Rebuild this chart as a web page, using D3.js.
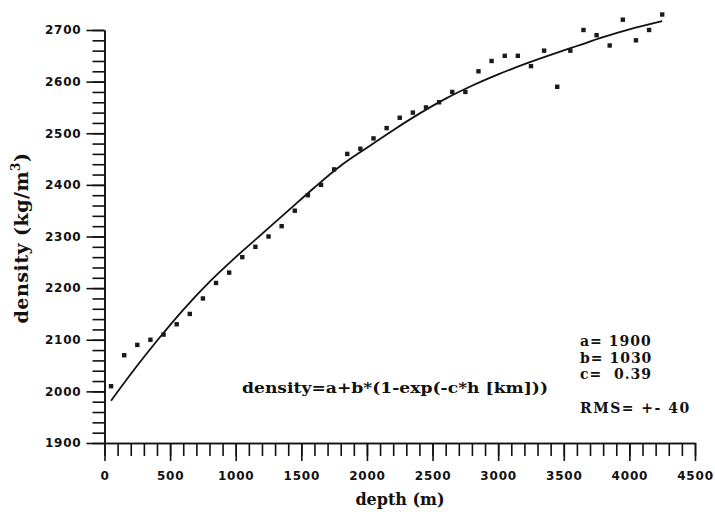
<!DOCTYPE html>
<html>
<head>
<meta charset="utf-8">
<script src="https://cdn.jsdelivr.net/npm/d3@7"></script>
<style>
  html, body { margin: 0; padding: 0; background: #fff; }
  svg { display: block; }
  .tick text { font-family: "DejaVu Sans", sans-serif; font-weight: bold; font-size: 12px; letter-spacing: 0.8px; fill: #111; }
  .tick line, .domain { stroke: #111; stroke-width: 1.6; }
  .label { font-family: "DejaVu Serif", serif; font-weight: bold; fill: #111; white-space: pre; }
</style>
</head>
<body>
<div id="chart"></div>
<script>
// measured points: depth (m) and density (kg/m3)
const depths = [50, 150, 250, 350, 450, 550, 650, 750, 850, 950,
  1050, 1150, 1250, 1350, 1450, 1550, 1650, 1750, 1850, 1950,
  2050, 2150, 2250, 2350, 2450, 2550, 2650, 2750, 2850, 2950,
  3050, 3150, 3250, 3350, 3450, 3550, 3650, 3750, 3850, 3950,
  4050, 4150, 4250];
const densities = [2010, 2070, 2090, 2100, 2110, 2130, 2150, 2180, 2210, 2230,
  2260, 2280, 2300, 2320, 2350, 2380, 2400, 2430, 2460, 2470,
  2490, 2510, 2530, 2540, 2550, 2560, 2580, 2580, 2620, 2640,
  2650, 2650, 2630, 2660, 2590, 2660, 2700, 2690, 2670, 2720,
  2680, 2700, 2730];

// fitted curve as drawn
const fitDepths = [50, 250, 400, 600, 800, 1000, 1200, 1400, 1600, 1800, 2000,
  2200, 2400, 2600, 2800, 3000, 3200, 3400, 3600, 3800, 4000, 4250];
const fitDensities = [1982, 2050, 2098, 2158, 2212, 2260, 2305, 2350, 2395, 2437, 2472,
  2506, 2538, 2567, 2592, 2614, 2634, 2652, 2669, 2686, 2701, 2717];

const xMajor = [0, 500, 1000, 1500, 2000, 2500, 3000, 3500, 4000, 4500];
const yMajor = [1900, 2000, 2100, 2200, 2300, 2400, 2500, 2600, 2700];

const params = ["a= 1900", "b= 1030", "c=  0.39"];
const rmsText = "RMS= +- 40";
const formula = "density=a+b*(1-exp(-c*h [km]))";

const width = 715, height = 512;

const svg = d3.select("#chart").append("svg")
    .attr("width", width)
    .attr("height", height);

const x = d3.scaleLinear().domain([0, 4500]).range([104.5, 695]);
const y = d3.scaleLinear().domain([1900, 2700]).range([443, 30]);

// minor ticks first
svg.append("g")
    .attr("transform", `translate(0,${y(1900)})`)
    .call(d3.axisBottom(x).tickValues(d3.range(0, 4501, 100)).tickSize(13).tickSizeOuter(0).tickFormat(""));
svg.append("g")
    .attr("transform", `translate(${x(0)},0)`)
    .call(d3.axisLeft(y).tickValues(d3.range(1900, 2701, 20)).tickSize(12).tickSizeOuter(0).tickFormat(""));

// major ticks with labels
svg.append("g")
    .attr("transform", `translate(0,${y(1900)})`)
    .call(d3.axisBottom(x).tickValues(xMajor).tickSize(18).tickSizeOuter(0).tickPadding(10).tickFormat(d3.format("d")));
svg.append("g")
    .attr("transform", `translate(${x(0)},0)`)
    .call(d3.axisLeft(y).tickValues(yMajor).tickSize(18).tickSizeOuter(0).tickPadding(5).tickFormat(d3.format("d")));

// fitted curve
const line = d3.line()
    .x((d, i) => x(fitDepths[i]))
    .y(d => y(d))
    .curve(d3.curveMonotoneX);
svg.append("path")
    .datum(fitDensities)
    .attr("d", line)
    .attr("fill", "none")
    .attr("stroke", "#111")
    .attr("stroke-width", 1.8);

// data markers
svg.append("g")
    .selectAll("rect")
    .data(densities)
    .join("rect")
    .attr("x", (d, i) => x(depths[i]) - 2.2)
    .attr("y", d => y(d) - 2.2)
    .attr("width", 4.4)
    .attr("height", 4.4)
    .attr("fill", "#1a1a1a");

// axis titles
svg.append("text")
    .attr("class", "label")
    .attr("x", 400)
    .attr("y", 505)
    .attr("text-anchor", "middle")
    .style("font-size", "16px")
    .text("depth (m)");

const yTitle = svg.append("text")
    .attr("class", "label")
    .attr("transform", "translate(28,238) rotate(-90)")
    .attr("text-anchor", "middle")
    .style("font-size", "19px")
    .style("letter-spacing", "0.5px");
yTitle.append("tspan").text("density (kg/m");
yTitle.append("tspan").attr("dy", -8).style("font-size", "12px").text("3");
yTitle.append("tspan").attr("dy", 8).text(")");

// annotations
svg.append("text")
    .attr("class", "label")
    .attr("x", 242)
    .attr("y", 393)
    .style("font-size", "14px")
    .attr("textLength", 306)
    .attr("lengthAdjust", "spacingAndGlyphs")
    .text(formula);

svg.append("g")
    .selectAll("text")
    .data(params)
    .join("text")
    .attr("class", "label")
    .attr("x", 580)
    .attr("y", (d, i) => 346 + i * 16.7)
    .style("font-size", "14px")
    .style("letter-spacing", "1px")
    .text(d => d);

svg.append("text")
    .attr("class", "label")
    .attr("x", 580)
    .attr("y", 413)
    .style("font-size", "14px")
    .style("letter-spacing", "1.5px")
    .text(rmsText);
</script>
</body>
</html>
